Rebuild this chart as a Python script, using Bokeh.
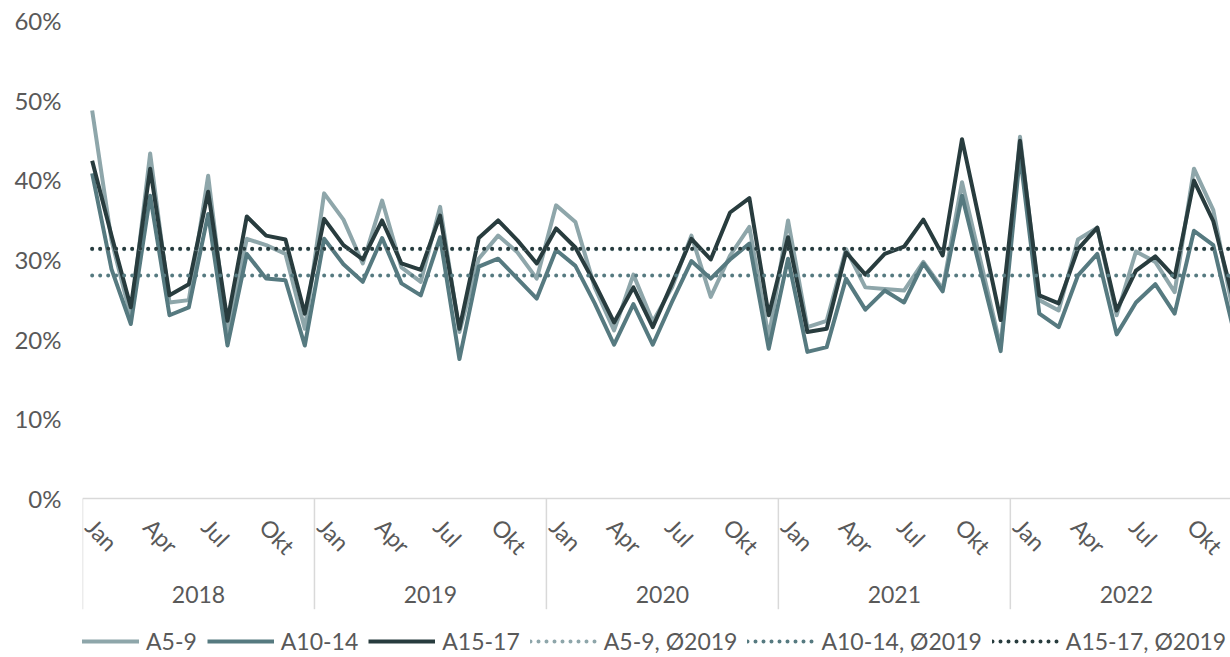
import math
from bokeh.plotting import figure
from bokeh.models import Range1d, FixedTicker, Legend, LegendItem, Span
from bokeh.core.properties import value
from bokeh.embed import file_html
from bokeh.resources import INLINE

# ---------------- data ----------------
years = ["2018", "2019", "2020", "2021", "2022"]
months = ["Jan", "Feb", "Mär", "Apr", "Mai", "Jun", "Jul", "Aug", "Sep", "Okt", "Nov", "Dez"]
shown_months = ["Jan", "Apr", "Jul", "Okt"]

a5_9 = [48.7, 32.4, 22.8, 43.3, 24.6, 24.9, 40.5, 20.7, 32.6, 31.8, 30.7, 21.3,
        38.3, 35.0, 29.5, 37.4, 29.0, 27.2, 36.6, 20.9, 30.1, 33.0, 30.9, 27.6,
        36.8, 34.7, 26.5, 21.1, 28.1, 22.2, 26.5, 33.0, 25.3, 30.5, 34.1, 20.2,
        34.9, 21.5, 22.3, 31.3, 26.5, 26.3, 26.1, 29.7, 26.3, 39.7, 29.4, 19.0,
        45.4, 24.9, 23.6, 32.5, 34.0, 23.0, 31.0, 29.7, 25.9, 41.4, 36.2, 23.8]
a10_14 = [40.8, 28.8, 21.9, 38.0, 23.0, 24.0, 35.7, 19.2, 30.7, 27.6, 27.4, 19.2,
          32.6, 29.4, 27.2, 32.7, 27.0, 25.5, 32.8, 17.5, 29.1, 30.1, 27.6, 25.1,
          31.2, 29.2, 24.5, 19.3, 24.4, 19.3, 24.7, 29.8, 27.6, 30.0, 32.0, 18.8,
          30.1, 18.4, 19.0, 27.6, 23.7, 26.1, 24.6, 29.5, 26.0, 38.0, 28.2, 18.5,
          43.1, 23.2, 21.5, 28.0, 30.7, 20.6, 24.6, 26.9, 23.2, 33.6, 31.8, 21.6]
a15_17 = [42.4, 33.0, 24.0, 41.4, 25.5, 26.9, 38.5, 22.3, 35.4, 33.0, 32.5, 23.2,
          35.1, 31.8, 30.0, 34.9, 29.5, 28.7, 35.5, 21.3, 32.7, 34.9, 32.4, 29.5,
          33.9, 31.5, 27.0, 22.1, 26.5, 21.5, 27.0, 32.6, 30.0, 35.9, 37.7, 23.0,
          32.8, 20.9, 21.3, 30.9, 28.1, 30.7, 31.6, 35.0, 30.5, 45.1, 33.8, 22.4,
          44.9, 25.5, 24.5, 31.3, 34.0, 23.6, 28.6, 30.4, 27.8, 39.9, 34.8, 25.3]

avg2019_a5_9 = 31.3
avg2019_a10_14 = 28.0
avg2019_a15_17 = 31.35

y_ticks = [0, 10, 20, 30, 40, 50, 60]

series_names = ["A5-9", "A10-14", "A15-17"]
avg_names = ["A5-9, Ø2019", "A10-14, Ø2019", "A15-17, Ø2019"]

# ---------------- style ----------------
FONT = "Lato"
TXT = "#595959"
GRID = "#d9d9d9"
colors = ["#8ea6aa", "#567a80", "#283c3e"]

n = len(years) * len(months)
x = list(range(n))

p = figure(width=1230, height=657, output_backend="svg", toolbar_location=None,
           x_range=Range1d(-0.5, 58.89), y_range=Range1d(-19.96, 62.51),
           x_axis_location=None,
           min_border_left=82, min_border_right=0, min_border_top=0, min_border_bottom=0)
p.outline_line_color = None
p.xgrid.visible = False
p.ygrid.visible = False
p.background_fill_color = "white"
p.border_fill_color = "white"

yax = p.yaxis[0]
yax.ticker = FixedTicker(ticks=y_ticks)
yax.major_label_overrides = {t: f"{t}%" for t in y_ticks}
yax.axis_line_color = None
yax.major_tick_line_color = None
yax.minor_tick_line_color = None
yax.major_tick_out = 0
yax.major_tick_in = 0
yax.major_label_standoff = 21
yax.major_label_text_font = FONT
yax.major_label_text_font_size = "24px"
yax.major_label_text_color = TXT

# category axis (drawn inside the frame below y=0)
p.add_layout(Span(location=0, dimension="width", line_color=GRID, line_width=1.5))
bounds = [i * len(months) - 0.5 for i in range(len(years))]
p.segment(x0=bounds, y0=[0] * len(bounds), x1=bounds, y1=[-13.9] * len(bounds),
          line_color=GRID, line_width=1.5)

mx, mt = [], []
for yi, yr in enumerate(years):
    for mi, m in enumerate(months):
        if m in shown_months:
            mx.append(yi * len(months) + mi)
            mt.append(m)
p.text(x=mx, y=[0] * len(mx), text=mt, angle=-0.8, x_offset=-2, y_offset=24,
       text_align="left", text_baseline="middle", text_font=value(FONT),
       text_font_size="23px", text_color=TXT)

yx = [yi * len(months) + (len(months) - 1) / 2 for yi in range(len(years))]
p.text(x=yx, y=[0] * len(yx), text=years, y_offset=96, text_align="center",
       text_baseline="middle", text_font=value(FONT), text_font_size="23px", text_color=TXT)

# series
renderers = []
for vals, c in zip([a5_9, a10_14, a15_17], colors):
    r = p.line(x, vals, line_color=c, line_width=4, line_join="round")
    renderers.append(r)
for av, c in zip([avg2019_a5_9, avg2019_a10_14, avg2019_a15_17], colors):
    r = p.line(x, [av] * n, line_color=c, line_width=4, line_dash="0 8", line_cap="round")
    renderers.append(r)

items = [LegendItem(label=lbl, renderers=[r]) for lbl, r in zip(series_names + avg_names, renderers)]
legend = Legend(items=items, orientation="horizontal", location=(-10, 2),
                glyph_width=67, glyph_height=20, label_standoff=7, spacing=10,
                padding=0, margin=0, border_line_alpha=0, background_fill_alpha=0,
                label_text_font=FONT, label_text_font_size="23px", label_text_color=TXT,
                label_height=20)
p.add_layout(legend)

open("out.html", "w").write(file_html(p, INLINE))
